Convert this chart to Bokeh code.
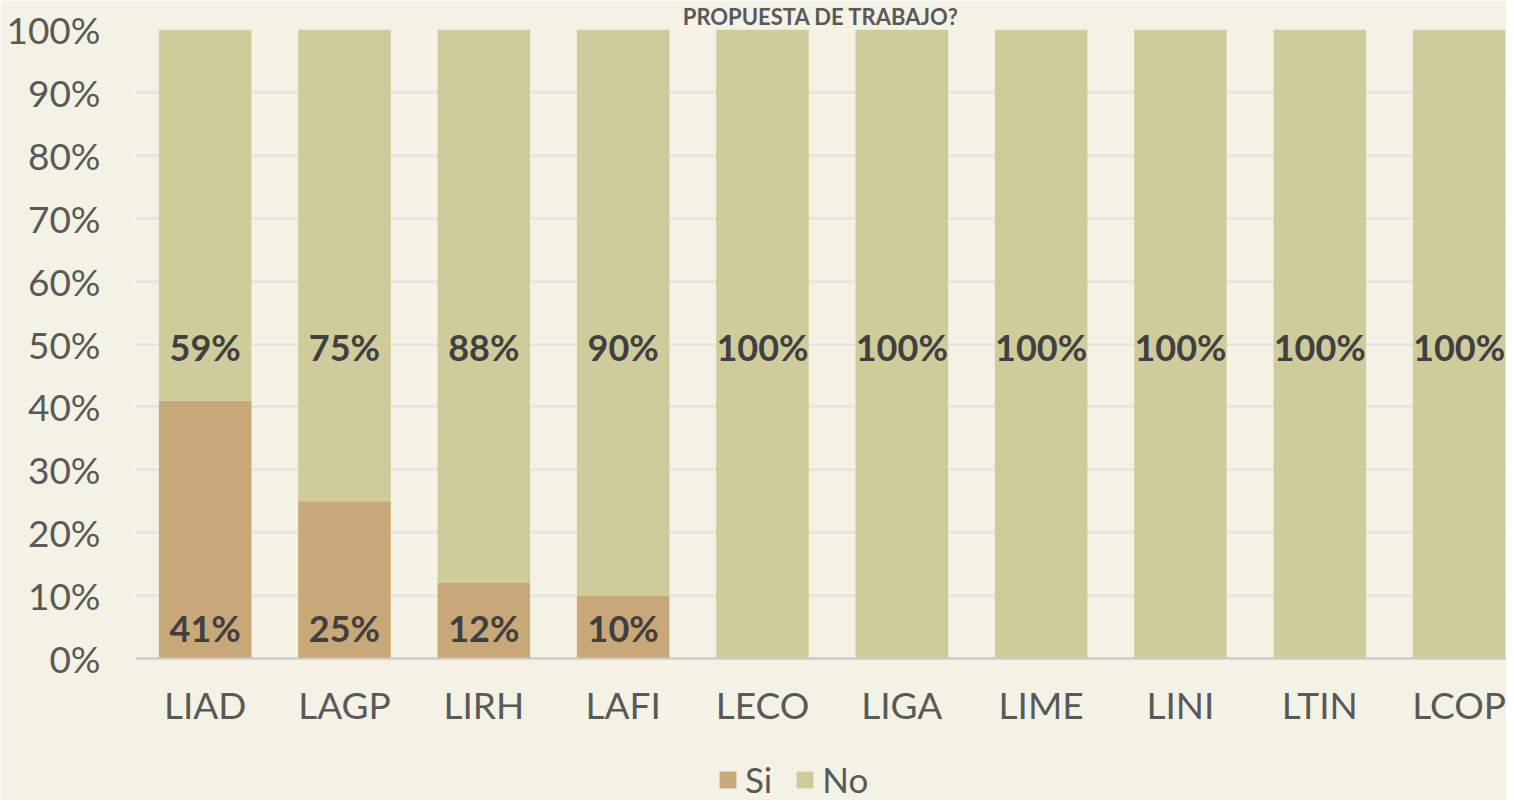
from bokeh.plotting import figure
from bokeh.models import (ColumnDataSource, Legend, LegendItem, FixedTicker,
                          PrintfTickFormatter, Range1d)
from bokeh.core.properties import value
from bokeh.embed import file_html
from bokeh.resources import INLINE

# ---- data ----
categories = ["LIAD", "LAGP", "LIRH", "LAFI", "LECO", "LIGA", "LIME", "LINI", "LTIN", "LCOP"]
si = [41, 25, 12, 10, 0, 0, 0, 0, 0, 0]
no = [59, 75, 88, 90, 100, 100, 100, 100, 100, 100]
title_text = "PROPUESTA DE TRABAJO?"

SI_COLOR = "#C6A574"
NO_COLOR = "#CDC998"
TEXT_COLOR = "#595959"
LABEL_COLOR = "#404040"
BG_COLOR = "#F4F2E5"
FONT = "Lato"

W, H = 1506, 800
TOP = 29
PX_PER_PCT = 6.29
idx = list(range(len(categories)))
src = ColumnDataSource(dict(
    x=idx, si=si, no=no,
    si_top=si,
    no_bottom=si,
    no_top=[a + b for a, b in zip(si, no)],
))

# the plot area runs to the bottom of the canvas; the value axis keeps 0-100 %
y_start = 100 - (H - TOP) / PX_PER_PCT
p = figure(width=W, height=H, output_backend="svg", toolbar_location=None,
           x_range=Range1d(-0.5, 9.34), y_range=Range1d(y_start, 100),
           min_border_left=135, min_border_right=0, min_border_top=TOP,
           min_border_bottom=0, title=title_text)
p.border_fill_color = BG_COLOR
p.background_fill_color = BG_COLOR
p.outline_line_color = None

p.title.align = "center"
p.title.text_font = FONT
p.title.text_font_style = "bold"
p.title.text_font_size = "22px"
p.title.text_color = TEXT_COLOR
p.title.standoff = 0
p.title.offset = 0

p.xgrid.grid_line_color = None
p.ygrid.grid_line_color = "#E2E0DF"
p.ygrid.grid_line_width = 2

si_r = p.vbar(x="x", bottom=0, top="si_top", width=0.664, source=src,
              fill_color=SI_COLOR, line_color=None, fill_alpha=0.97)
no_r = p.vbar(x="x", bottom="no_bottom", top="no_top", width=0.664, source=src,
              fill_color=NO_COLOR, line_color=None, fill_alpha=0.97)

# data labels
si_lab = ColumnDataSource(dict(
    x=[i for i, v in zip(idx, si) if v > 0],
    y=[4.8 for v in si if v > 0],
    t=[f"{v}%" for v in si if v > 0],
))
no_lab = ColumnDataSource(dict(
    x=idx, y=[49.6] * len(idx), t=[f"{v}%" for v in no],
))
for s in (si_lab, no_lab):
    p.text(x="x", y="y", text="t", source=s, text_align="center",
           text_baseline="middle", text_font=value(FONT), text_font_style="bold",
           text_font_size="36px", text_color=LABEL_COLOR)

# axes
p.xaxis.fixed_location = 0
p.xaxis.ticker = FixedTicker(ticks=idx)
p.xaxis.major_label_overrides = {i: c for i, c in zip(idx, categories)}
p.yaxis.ticker = FixedTicker(ticks=list(range(0, 101, 10)))
p.yaxis.formatter = PrintfTickFormatter(format="%d%%")
for ax in (p.xaxis, p.yaxis):
    ax.major_tick_line_color = None
    ax.minor_tick_line_color = None
    ax.major_label_text_font = FONT
    ax.major_label_text_font_size = "37px"
    ax.major_label_text_color = TEXT_COLOR
p.yaxis.axis_line_color = None
p.yaxis.major_label_standoff = 29
p.xaxis.axis_line_color = "#C9C8C8"
p.xaxis.axis_line_width = 2
p.xaxis.major_label_standoff = 17

legend = Legend(items=[LegendItem(label="Si", renderers=[si_r]),
                       LegendItem(label="No", renderers=[no_r])],
                orientation="horizontal", location=(582, 0),
                glyph_width=21, glyph_height=21, label_standoff=7, spacing=22,
                padding=0, margin=0, border_line_color=None,
                background_fill_alpha=0,
                label_text_font=FONT, label_text_font_size="35px",
                label_text_color=TEXT_COLOR)
p.add_layout(legend, "center")

open("out.html", "w").write(file_html(p, INLINE))
